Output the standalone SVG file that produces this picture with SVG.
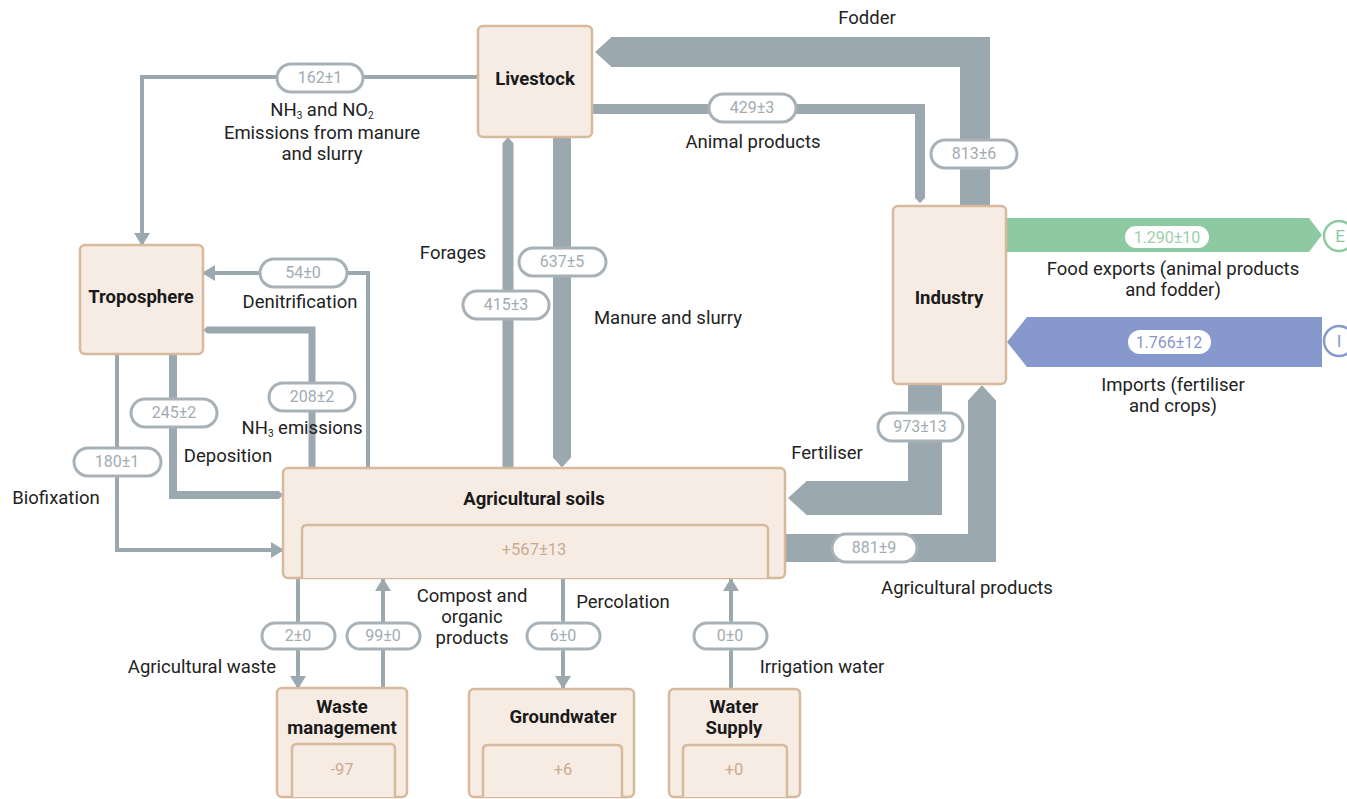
<svg xmlns="http://www.w3.org/2000/svg" width="1347" height="799" viewBox="0 0 1347 799">
  <style>
    .box { fill: #f7ece4; stroke: #d7b99d; stroke-width: 2.5; }
    .inner { fill: #f7ece4; stroke: #d7b99d; stroke-width: 2.5; }
    .title { font-family: Roboto, "Liberation Sans", sans-serif; font-weight: bold; font-size: 18.5px; fill: #1a1a1a; text-anchor: middle; }
    .val { font-family: Roboto, "Liberation Sans", sans-serif; font-size: 16.5px; fill: #c9ab90; text-anchor: middle; }
    .lbl { font-family: Roboto, "Liberation Sans", sans-serif; font-size: 18.5px; fill: #222; text-anchor: middle; }
    .flow { fill: none; stroke: #9ca8b0; stroke-linejoin: miter; }
    .thin { fill: none; stroke: #9ca8b0; stroke-width: 4; }
    .pill { fill: #fff; stroke: #a8b1b8; stroke-width: 3; }
    .ptxt { font-family: Roboto, "Liberation Sans", sans-serif; font-size: 16px; fill: #a2abb2; text-anchor: middle; }
    .sub { font-size: 10px; }
  </style>
  <defs>
    <marker id="arrow" viewBox="0 0 13 16" refX="12" refY="8" markerWidth="13" markerHeight="16" markerUnits="userSpaceOnUse" orient="auto">
      <path d="M0,0 L13,8 L0,16 z" fill="#9ca8b0"/>
    </marker>
    <marker id="tip" viewBox="0 -0.5 0.55 1" refX="0.02" refY="0" markerWidth="0.55" markerHeight="1" markerUnits="strokeWidth" orient="auto">
      <path d="M0,-0.5 L0.55,0 L0,0.5 z" fill="#9ca8b0"/>
    </marker>
  </defs>

  <rect width="1347" height="799" fill="#ffffff"/>

  <!-- connectors -->
  <g id="connectors">
    <!-- Fodder: Industry -> Livestock -->
    <path class="flow" stroke-width="30" d="M975,207 V52 H611" marker-end="url(#tip)"/>
    <!-- Animal products: Livestock -> Industry -->
    <path class="flow" stroke-width="10" d="M592,109 H920 V198" marker-end="url(#tip)"/>
    <!-- Forages: Agricultural soils -> Livestock -->
    <path class="flow" stroke-width="11" d="M508,468 V143" marker-end="url(#tip)"/>
    <!-- Manure and slurry: Livestock -> Agricultural soils -->
    <path class="flow" stroke-width="18" d="M562,137 V458" marker-end="url(#tip)"/>
    <!-- Fertiliser: Industry -> Agricultural soils -->
    <path class="flow" stroke-width="34" d="M925,384 V498 H806" marker-end="url(#tip)"/>
    <!-- Agricultural products: Agricultural soils -> Industry -->
    <path class="flow" stroke-width="28" d="M785,548 H982 V400" marker-end="url(#tip)"/>
    <!-- Deposition: Troposphere -> Agricultural soils -->
    <path class="flow" stroke-width="8" d="M173,355 V495 H279" marker-end="url(#tip)"/>
    <!-- NH3 emissions: Agricultural soils -> Troposphere -->
    <path class="flow" stroke-width="7" d="M312,468 V330 H207" marker-end="url(#tip)"/>
    <!-- Biofixation -->
    <path class="thin" d="M117,355 V550 H283" marker-end="url(#arrow)"/>
    <!-- Denitrification -->
    <path class="thin" d="M368,468 V273 H203" marker-end="url(#arrow)"/>
    <!-- Emissions from manure and slurry -->
    <path class="thin" d="M479,77 H142 V245" marker-end="url(#arrow)"/>
    <!-- Agricultural waste -->
    <path class="thin" d="M298,578 V688" marker-end="url(#arrow)"/>
    <!-- Compost and organic products -->
    <path class="thin" d="M383,688 V579" marker-end="url(#arrow)"/>
    <!-- Percolation -->
    <path class="thin" d="M563,578 V688" marker-end="url(#arrow)"/>
    <!-- Irrigation water -->
    <path class="thin" d="M731,689 V579" marker-end="url(#arrow)"/>

    <!-- Exports / imports -->
    <polygon points="1006,218 1309,218 1322,235 1309,252 1006,252" fill="#8ecaa1"/>
    <polygon points="1322,317 1027,317 1007,342 1027,367 1322,367" fill="#8798cc"/>
    <circle cx="1339" cy="236" r="15" fill="#fff" stroke="#8ecaa1" stroke-width="2.5"/>
    <text x="1340" y="242" font-family="Roboto, Liberation Sans, sans-serif" font-size="17" fill="#8ecaa1" text-anchor="middle">E</text>
    <circle cx="1339" cy="341" r="15" fill="#fff" stroke="#8798cc" stroke-width="2.5"/>
    <text x="1339" y="347" font-family="Roboto, Liberation Sans, sans-serif" font-size="17" fill="#8798cc" text-anchor="middle">I</text>

    <!-- value pills -->
    <rect class="pill" x="277" y="64" width="86" height="28" rx="14"/>
    <text class="ptxt" x="320" y="83">162±1</text>
    <rect class="pill" x="709" y="94" width="87" height="28" rx="14"/>
    <text class="ptxt" x="752" y="113">429±3</text>
    <rect class="pill" x="931" y="140" width="86" height="28" rx="14"/>
    <text class="ptxt" x="974" y="159">813±6</text>
    <rect class="pill" x="519" y="248" width="87" height="28" rx="14"/>
    <text class="ptxt" x="562" y="267">637±5</text>
    <rect class="pill" x="463" y="291" width="86" height="28" rx="14"/>
    <text class="ptxt" x="506" y="310">415±3</text>
    <rect class="pill" x="260" y="259" width="87" height="28" rx="14"/>
    <text class="ptxt" x="303" y="278">54±0</text>
    <rect class="pill" x="269" y="383" width="86" height="28" rx="14"/>
    <text class="ptxt" x="312" y="402">208±2</text>
    <rect class="pill" x="131" y="399" width="86" height="28" rx="14"/>
    <text class="ptxt" x="174" y="418">245±2</text>
    <rect class="pill" x="74" y="448" width="87" height="28" rx="14"/>
    <text class="ptxt" x="117" y="467">180±1</text>
    <rect class="pill" x="878" y="413" width="85" height="28" rx="14"/>
    <text class="ptxt" x="920" y="432">973±13</text>
    <rect class="pill" x="832" y="534" width="85" height="28" rx="14" stroke="#9ca8b0"/>
    <text class="ptxt" x="874" y="553">881±9</text>
    <rect class="pill" x="262" y="623" width="73" height="26" rx="13"/>
    <text class="ptxt" x="298" y="641">2±0</text>
    <rect class="pill" x="347" y="623" width="73" height="26" rx="13"/>
    <text class="ptxt" x="383" y="641">99±0</text>
    <rect class="pill" x="527" y="623" width="73" height="26" rx="13"/>
    <text class="ptxt" x="563" y="641">6±0</text>
    <rect class="pill" x="694" y="623" width="73" height="26" rx="13"/>
    <text class="ptxt" x="730" y="641">0±0</text>
    <rect x="1125" y="226" width="84" height="22" rx="11" fill="#fff"/>
    <text class="ptxt" x="1167" y="243" style="fill:#9bd0ab">1.290±10</text>
    <rect x="1128" y="330" width="83" height="24" rx="12" fill="#fff"/>
    <text class="ptxt" x="1169" y="348" style="fill:#8798cc">1.766±12</text>

    <!-- flow labels -->
    <text class="lbl" x="867" y="24">Fodder</text>
    <text class="lbl" x="322" y="116">NH<tspan class="sub" dy="3">3</tspan><tspan dy="-3"> and NO</tspan><tspan class="sub" dy="3">2</tspan></text>
    <text class="lbl" x="322" y="139">Emissions from manure</text>
    <text class="lbl" x="322" y="160">and slurry</text>
    <text class="lbl" x="753" y="148">Animal products</text>
    <text class="lbl" x="453" y="259">Forages</text>
    <text class="lbl" x="668" y="324">Manure and slurry</text>
    <text class="lbl" x="300" y="308">Denitrification</text>
    <text class="lbl" x="302" y="434">NH<tspan class="sub" dy="3">3</tspan><tspan dy="-3"> emissions</tspan></text>
    <text class="lbl" x="228" y="462">Deposition</text>
    <text class="lbl" x="56" y="504">Biofixation</text>
    <text class="lbl" x="827" y="459">Fertiliser</text>
    <text class="lbl" x="967" y="594">Agricultural products</text>
    <text class="lbl" x="1173" y="275">Food exports (animal products</text>
    <text class="lbl" x="1173" y="296">and fodder)</text>
    <text class="lbl" x="1173" y="391">Imports (fertiliser</text>
    <text class="lbl" x="1173" y="412">and crops)</text>
    <text class="lbl" x="202" y="673">Agricultural waste</text>
    <text class="lbl" x="472" y="602">Compost and</text>
    <text class="lbl" x="472" y="623">organic</text>
    <text class="lbl" x="472" y="644">products</text>
    <text class="lbl" x="623" y="608">Percolation</text>
    <text class="lbl" x="822" y="673">Irrigation water</text>
  </g>

  <!-- nodes -->
  <g id="livestock">
    <rect class="box" x="478" y="26" width="114" height="111" rx="5"/>
    <text class="title" x="535" y="85">Livestock</text>
  </g>
  <g id="industry">
    <rect class="box" x="893" y="206" width="113" height="178" rx="5"/>
    <text class="title" x="949" y="304">Industry</text>
  </g>
  <g id="troposphere">
    <rect class="box" x="80" y="245" width="123" height="109" rx="5"/>
    <text class="title" x="141" y="303">Troposphere</text>
  </g>
  <g id="agricultural-soils">
    <rect class="box" x="283" y="468" width="502" height="110" rx="5"/>
    <path class="inner" d="M302,578 V530 Q302,525 307,525 H763 Q768,525 768,530 V578"/>
    <text class="title" x="534" y="505">Agricultural soils</text>
    <text class="val" x="534" y="555">+567±13</text>
  </g>
  <g id="waste-management">
    <rect class="box" x="277" y="688" width="130" height="109" rx="5"/>
    <path class="inner" d="M292,797 V749 Q292,744 297,744 H390 Q395,744 395,749 V797"/>
    <text class="title" x="342" y="713">Waste</text>
    <text class="title" x="342" y="734">management</text>
    <text class="val" x="342" y="775">-97</text>
  </g>
  <g id="groundwater">
    <rect class="box" x="469" y="689" width="165" height="108" rx="5"/>
    <path class="inner" d="M483,797 V750 Q483,745 488,745 H617 Q622,745 622,750 V797"/>
    <text class="title" x="563" y="723">Groundwater</text>
    <text class="val" x="563" y="775">+6</text>
  </g>
  <g id="water-supply">
    <rect class="box" x="669" y="689" width="131" height="108" rx="5"/>
    <path class="inner" d="M683,797 V750 Q683,745 688,745 H782 Q787,745 787,750 V797"/>
    <text class="title" x="734" y="713">Water</text>
    <text class="title" x="734" y="734">Supply</text>
    <text class="val" x="734" y="775">+0</text>
  </g>
</svg>
